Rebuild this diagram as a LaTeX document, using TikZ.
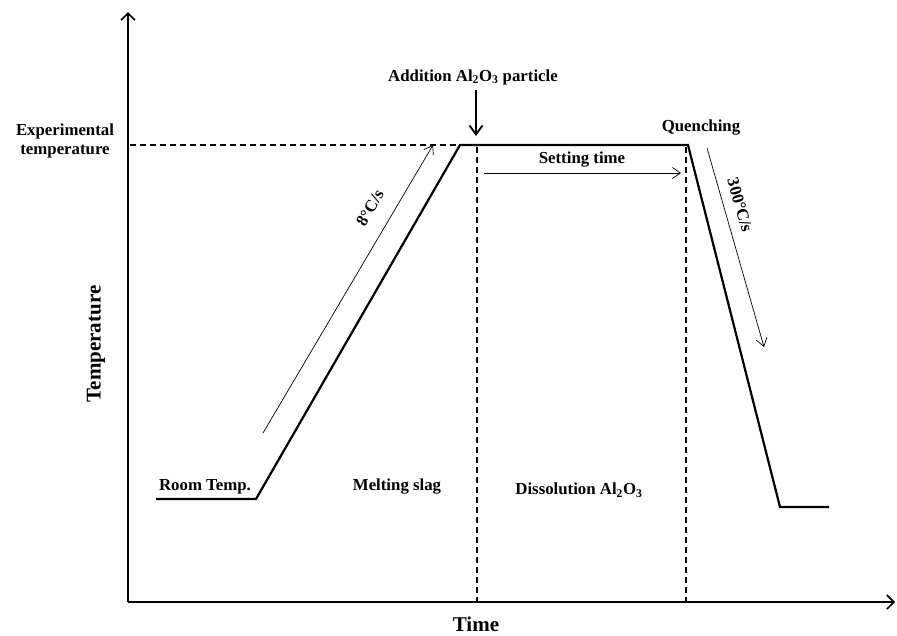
\documentclass[tikz,border=0pt]{standalone}
\usepackage{fontspec}
\setmainfont{Liberation Serif}
\usetikzlibrary{arrows.meta}
\begin{document}
\begin{tikzpicture}[x=1pt,y=-1pt,
  lbl/.style={font=\fontsize{16.8}{19.5}\selectfont\bfseries, inner sep=0pt, align=center},
  biglbl/.style={font=\fontsize{21}{24}\selectfont\bfseries, inner sep=0pt},
  axis/.style={line width=1.8pt, -{Straight Barb[length=7pt,width=14pt,line width=1.6pt]}},
  curve/.style={line width=2.2pt, line join=miter},
  guide/.style={line width=1.1pt, dash pattern=on 6pt off 4pt},
  thinarrow/.style={line width=0.7pt, -{Straight Barb[length=8pt,width=11pt,line width=0.7pt]}},
  thickarrow/.style={line width=1.8pt, -{Straight Barb[length=9pt,width=13pt,line width=1.8pt]}}]
\useasboundingbox (0,0) rectangle (897,635);
% axes
\coordinate (O) at (128,602);
\coordinate (Ytop) at (128,12);
\coordinate (Xend) at (895,602);
\draw[axis] (O) -- (Ytop);
\draw[axis] (O) -- (Xend);
% curve points
\coordinate (c0) at (156,499);
\coordinate (c1) at (256,499);
\coordinate (c2) at (460,145);
\coordinate (c3) at (688,145);
\coordinate (c4) at (780,507);
\coordinate (c5) at (829,507);
\draw[curve] (c0) -- (c1) -- (c2) -- (c3) -- (c4) -- (c5);
% guides
\coordinate (h0) at (130,145);
\draw[guide] (h0) -- (c2);
\coordinate (v1t) at (477,147);
\coordinate (v1b) at (477,601);
\coordinate (v2t) at (686,147);
\coordinate (v2b) at (686,601);
\draw[guide] (v1t) -- (v1b);
\draw[guide] (v2t) -- (v2b);
% arrows
\coordinate (r0) at (263,433);
\coordinate (r1) at (433,145);
\draw[thinarrow] (r0) -- (r1);
\coordinate (s0) at (484,173);
\coordinate (s1) at (681,173);
\draw[thinarrow] (s0) -- (s1);
\coordinate (q0) at (707,148);
\coordinate (q1) at (764,347);
\draw[thinarrow] (q0) -- (q1);
% labels
\node[lbl] (exp) at (65,141) {Experimental\\temperature};
\node[lbl] (add) at (473,77) {Addition Al\textsubscript{2}O\textsubscript{3} particle};
\coordinate (a0) at (476,90);
\coordinate (a1) at (476,136);
\draw[thickarrow] (a0) -- (a1);
\node[lbl] (quench) at (701,128) {Quenching};
\node[lbl] (set) at (582,160) {Setting time};
\node[lbl, rotate=59.4] (rate1) at (370,208) {8°C/s};
\node[lbl, rotate=-74] (rate2) at (740,205) {300°C/s};
\node[lbl] (room) at (205,487) {Room Temp.};
\node[lbl] (melt) at (397,487) {Melting slag};
\node[lbl] (diss) at (579,490) {Dissolution Al\textsubscript{2}O\textsubscript{3}};
\node[biglbl, rotate=90] (temp) at (96,344) {Temperature};
\node[biglbl] (time) at (476,624) {Time};
\end{tikzpicture}
\end{document}
